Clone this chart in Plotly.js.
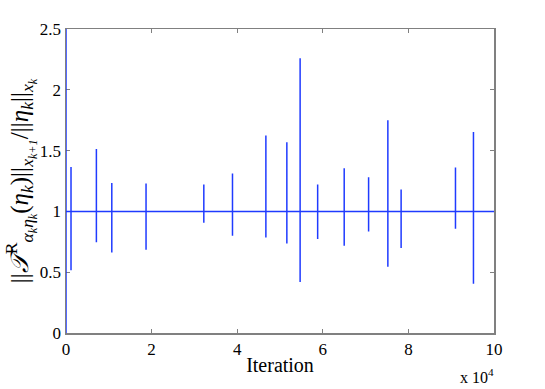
<!DOCTYPE html>
<html>
<head>
<meta charset="utf-8">
<script src="https://cdn.plot.ly/plotly-3.0.1.min.js"></script>
<style>
  html, body { margin: 0; padding: 0; background: #fff; }
  #chart { width: 545px; height: 389px; }
</style>
</head>
<body>
<div id="chart"></div>
<script>
// start of the run: the ratio leaves the plot at the top and comes back
const startIter = [0, 0, 0];
const startRatio = [3.0, 0.0, 1.0];

// iterations where the ratio jumps away from 1
const spikeIter = [1170, 7100, 10700, 18700, 32200, 38900, 46700, 51600,
                   54700, 58800, 65000, 70700, 75200, 78300, 91000, 95200];
const spikeHigh = [1.365, 1.513, 1.233, 1.23, 1.222, 1.312, 1.625, 1.568,
                   2.259, 1.222, 1.354, 1.28, 1.749, 1.181, 1.362, 1.653];
const spikeLow = [0.517, 0.747, 0.662, 0.684, 0.906, 0.80, 0.786, 0.737,
                  0.42, 0.772, 0.717, 0.835, 0.544, 0.70, 0.857, 0.404];
const lastIter = 100000;

const xTickVals = [0, 20000, 40000, 60000, 80000, 100000];
const xTickText = ['0', '2', '4', '6', '8', '10'];
const yTickVals = [0, 0.5, 1, 1.5, 2, 2.5];
const yTickText = ['0', '0.5', '1', '1.5', '2', '2.5'];

const x = startIter.slice();
const y = startRatio.slice();
spikeIter.forEach((it, i) => {
    x.push(it, it, it, it);
    y.push(1, spikeHigh[i], spikeLow[i], 1);
});
x.push(lastIter);
y.push(1);

const serif = 'Liberation Serif';
const f = (size) => ({ family: serif, size: size, color: '#000' });
const axisColor = '#808080';

Plotly.newPlot('chart', [{
    x, y,
    type: 'scatter',
    mode: 'lines',
    line: { color: '#1f3bff', width: 1.5 },
    cliponaxis: false,
    hoverinfo: 'skip'
}], {
    width: 545,
    height: 389,
    margin: { l: 66, r: 51, t: 29, b: 56 },
    paper_bgcolor: '#fff',
    plot_bgcolor: '#fff',
    showlegend: false,
    font: f(16),
    xaxis: {
        range: [0, 100000],
        tickvals: xTickVals,
        ticktext: xTickText,
        ticks: 'inside',
        ticklen: 4,
        tickcolor: axisColor,
        showgrid: false,
        zeroline: false,
        showline: true,
        linecolor: axisColor,
        linewidth: 1.5,
        mirror: 'allticks',
        layer: 'below traces',
        tickfont: f(17),
        title: { text: 'Iteration', font: f(20), standoff: 0 }
    },
    yaxis: {
        range: [0, 2.5],
        tickvals: yTickVals,
        ticktext: yTickText,
        ticks: 'inside',
        ticklen: 4,
        tickcolor: axisColor,
        showgrid: false,
        zeroline: false,
        showline: true,
        linecolor: axisColor,
        linewidth: 1.5,
        mirror: 'allticks',
        layer: 'below traces',
        tickfont: f(17),
        title: {
            text: '||<i>𝒯</i><sup>R</sup><sub><i>α<sub>k</sub>η<sub>k</sub></i></sub>(<i>η<sub>k</sub></i>)||<sub><i>x<sub>k+1</sub></i></sub>/||<i>η<sub>k</sub></i>||<sub><i>x<sub>k</sub></i></sub>',
            font: f(25),
            standoff: 2
        }
    },
    annotations: [{
        text: 'x 10<sup>4</sup>',
        xref: 'paper', yref: 'paper',
        x: 1.005, y: 0, yshift: -31,
        xanchor: 'right', yanchor: 'top',
        showarrow: false,
        font: f(16)
    }]
}, {
    displayModeBar: false,
    staticPlot: true
});
</script>
</body>
</html>
